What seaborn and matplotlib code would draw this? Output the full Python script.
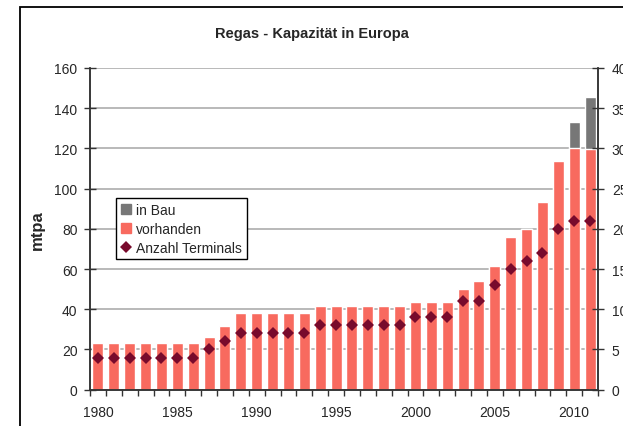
import numpy as np
import pandas as pd
import matplotlib
matplotlib.use("Agg")
import matplotlib.pyplot as plt
import seaborn as sns
from matplotlib.patches import Rectangle, Patch
from matplotlib.lines import Line2D

# Data
years = list(range(1980, 2012))
vorhanden = [23, 23, 23, 23, 23, 23, 23, 26, 31.5, 38,
             38, 38, 38, 38, 41.5, 41.5, 41.5, 41.5, 41.5, 41.5,
             43.5, 43.5, 43.5, 50, 54, 61.5, 76, 80, 93.5, 113.5,
             120, 119.5]
in_bau = [0] * 30 + [13, 26]
terminals = [4, 4, 4, 4, 4, 4, 4, 5, 6, 7,
             7, 7, 7, 7, 8, 8, 8, 8, 8, 8,
             9, 9, 9, 11, 11, 13, 15, 16, 17, 20,
             21, 21]

df = pd.DataFrame({"Jahr": years, "vorhanden": vorhanden, "in Bau": in_bau,
                   "Terminals": terminals})
df["gesamt"] = df["vorhanden"] + df["in Bau"]

red = "#F86A5F"
grey = "#777777"
maroon = "#780A2C"

sns.set_style("white")
plt.rcParams["font.family"] = ["Liberation Sans", "DejaVu Sans"]

fig = plt.figure(figsize=(6.23, 4.27), dpi=100)
ax = fig.add_axes([90 / 623, 1 - 390.7 / 427, 508 / 623, 321.7 / 427])

sns.barplot(data=df, x="Jahr", y="gesamt", color=grey, width=0.7,
            saturation=1, ax=ax)
sns.barplot(data=df, x="Jahr", y="vorhanden", color=red, width=0.7,
            saturation=1, ax=ax)

ax.set_ylim(0, 160)
ax.set_yticks(range(0, 161, 20))
ax.yaxis.grid(True, color="#A6A6A6", linewidth=1.1)
ax.set_axisbelow(True)
ax.set_xlabel("")
ax.set_ylabel("")

ax2 = ax.twinx()
sns.pointplot(data=df.assign(pos=range(len(df))), x="pos", y="Terminals",
              native_scale=True, linestyle="none", marker="D",
              markersize=6, markeredgewidth=0, color=maroon, ax=ax2)
ax2.set_ylim(0, 40)
ax2.set_yticks(range(0, 41, 5))
ax2.set_ylabel("")

n = len(years)
ax.set_xlim(-0.5, n - 0.5)
ax2.set_xlim(-0.5, n - 0.5)
ax.set_xticks(range(0, n, 5))
ax.set_xticklabels([str(y) for y in years[::5]])
ax.set_xticks(np.arange(-0.5, n, 1), minor=True)
ax.tick_params(axis="x", which="major", length=0, pad=11, labelsize=10)
ax.tick_params(axis="x", which="minor", length=4, width=1, color="#333333",
               direction="out", bottom=True)
ax.tick_params(axis="y", length=8, width=1, direction="inout", pad=5,
               labelsize=10, left=True, color="#333333")
ax2.tick_params(axis="y", length=8, width=1, direction="inout", pad=6,
                labelsize=10, right=True, color="#333333")

for a in (ax, ax2):
    a.spines["top"].set_visible(False)
    for s in ("left", "right", "bottom"):
        a.spines[s].set_color("#333333")
        a.spines[s].set_linewidth(1.1)

handles = [Patch(color=grey, label="in Bau"),
           Patch(color=red, label="vorhanden"),
           Line2D([], [], linestyle="none", marker="D", markersize=6,
                  markeredgewidth=0, color=maroon, label="Anzahl Terminals")]
leg = ax2.legend(handles=handles, loc="upper left",
                 bbox_to_anchor=(116 / 623, 1 - 199 / 427),
                 bbox_transform=fig.transFigure, fontsize=10, frameon=True,
                 fancybox=False, edgecolor="black", framealpha=1,
                 handlelength=0.7, handleheight=0.7, handletextpad=0.4,
                 labelspacing=0.35, borderpad=0.35, borderaxespad=0)
leg.get_frame().set_linewidth(1)

fig.text(0.5, 1 - 38 / 427, "Regas - Kapazität in Europa", ha="center",
         va="baseline", fontsize=10.5, fontweight="bold")
fig.text(37.5 / 623, 1 - 230 / 427, "mtpa", rotation=90, ha="center",
         va="center", fontsize=12, fontweight="bold")

fig.patches.append(Rectangle((19.5 / 623, -0.2), 1.2, 1.2 - 7.5 / 427,
                             transform=fig.transFigure, fill=False,
                             edgecolor="black", linewidth=1.3))

plt.savefig("out.png", dpi=100)
